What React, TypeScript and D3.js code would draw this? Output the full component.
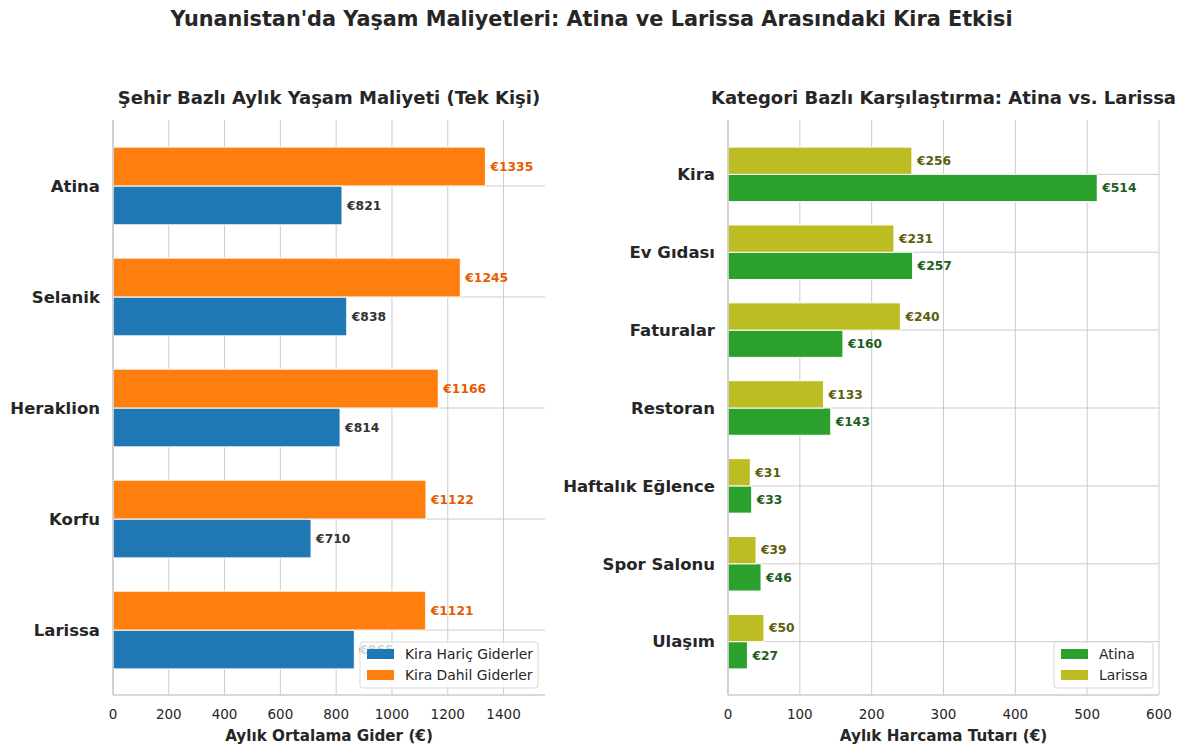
import React from 'react';
import * as d3 from 'd3';

// Left panel data
const cities = ['Atina', 'Selanik', 'Heraklion', 'Korfu', 'Larissa'];
const withoutRent = [821, 838, 814, 710, 865];
const withRent = [1335, 1245, 1166, 1122, 1121];
const leftTicks = [0, 200, 400, 600, 800, 1000, 1200, 1400];

// Right panel data
const categories = ['Kira', 'Ev Gıdası', 'Faturalar', 'Restoran', 'Haftalık Eğlence', 'Spor Salonu', 'Ulaşım'];
const athens = [514, 257, 160, 143, 33, 46, 27];
const larissa = [256, 231, 240, 133, 31, 39, 50];
const rightTicks = [0, 100, 200, 300, 400, 500, 600];

const W = 1185;
const H = 754;
const FONT = 'DejaVu Sans, sans-serif';
const TEXT = '#262626';
const GRID = '#cccccc';
const BAR_H = 0.35;

interface Series {
  name: string;
  values: number[];
  color: string;
  labelColor: string;
  side: 'top' | 'bottom';
}

interface PanelProps {
  x0: number;
  x1: number;
  y0: number;
  y1: number;
  title: string;
  xLabel: string;
  cats: string[];
  xMax: number;
  ticks: number[];
  series: Series[];
  legend: { box: [number, number, number]; items: Series[] };
}

const Panel = ({ x0, x1, y0, y1, title, xLabel, cats, xMax, ticks, series, legend }: PanelProps) => {
  const x = d3.scaleLinear().domain([0, xMax]).range([x0, x1]);
  const n = cats.length;
  const pad = BAR_H + 0.05 * (n - 1 + 2 * BAR_H);
  const y = d3.scaleLinear().domain([-pad, n - 1 + pad]).range([y0 + 1, y1]);
  const bh = y(BAR_H) - y(0);
  const [lx, ly, lw] = legend.box;

  return (
    <g>
      {/* vertical grid */}
      {ticks.map(t => (
        <line key={'v' + t} x1={x(t)} x2={x(t)} y1={y0} y2={y1} stroke={GRID} strokeWidth={1} />
      ))}
      {/* horizontal grid at categories */}
      {cats.map((c, i) => (
        <line key={'h' + c} x1={x0} x2={x1} y1={y(i)} y2={y(i)} stroke={GRID} strokeWidth={1} />
      ))}
      {/* bars */}
      {series.map(s =>
        s.values.map((v, i) => {
          const top = s.side === 'top' ? y(i) - bh : y(i);
          return (
            <g key={s.name + i}>
              <rect x={x(0)} y={top} width={x(v) - x(0)} height={bh} fill={s.color} stroke="#ffffff" strokeWidth={1} />
              <text x={x(v) + 5} y={top + bh / 2} dy="0.35em" fontSize={12.3} fontWeight="bold" fill={s.labelColor} fontFamily={FONT}>
                €{v}
              </text>
            </g>
          );
        })
      )}
      {/* spines */}
      <line x1={x0} x2={x0} y1={y0} y2={y1} stroke={GRID} strokeWidth={1.6} />
      <line x1={x0} x2={x1} y1={y1} y2={y1} stroke={GRID} strokeWidth={1.6} />
      {/* category labels */}
      {cats.map((c, i) => (
        <text key={'c' + c} x={x0 - 13} y={y(i)} dy="0.35em" textAnchor="end" fontSize={16.5} fontWeight="bold" fill={TEXT} fontFamily={FONT}>
          {c}
        </text>
      ))}
      {/* x tick labels */}
      {ticks.map(t => (
        <text key={'t' + t} x={x(t)} y={y1 + 19} dy="0.35em" textAnchor="middle" fontSize={13.5} fill={TEXT} fontFamily={FONT}>
          {t}
        </text>
      ))}
      <text x={(x0 + x1) / 2} y={y1 + 41} dy="0.35em" textAnchor="middle" fontSize={15.2} fontWeight="bold" fill={TEXT} fontFamily={FONT}>
        {xLabel}
      </text>
      <text x={(x0 + x1) / 2} y={y0 - 22} dy="0.35em" textAnchor="middle" fontSize={18} fontWeight="bold" fill={TEXT} fontFamily={FONT}>
        {title}
      </text>
      {/* legend */}
      <rect x={lx} y={ly} width={lw} height={46} rx={3} fill="#ffffff" fillOpacity={0.8} stroke="#d9d9d9" strokeWidth={1} />
      {legend.items.map((s, i) => (
        <g key={'l' + s.name}>
          <rect x={lx + 7} y={ly + 7 + i * 21} width={27} height={10} fill={s.color} />
          <text x={lx + 45} y={ly + 12 + i * 21} dy="0.35em" fontSize={13.9} fill={TEXT} fontFamily={FONT}>
            {s.name}
          </text>
        </g>
      ))}
    </g>
  );
};

export default function App() {
  const blue: Series = { name: 'Kira Hariç Giderler', values: withoutRent, color: '#1f77b4', labelColor: '#333333', side: 'bottom' };
  const orange: Series = { name: 'Kira Dahil Giderler', values: withRent, color: '#ff7f0e', labelColor: '#e65c00', side: 'top' };
  const green: Series = { name: 'Atina', values: athens, color: '#2ca02c', labelColor: '#1e5e1e', side: 'bottom' };
  const olive: Series = { name: 'Larissa', values: larissa, color: '#bcbd22', labelColor: '#5e5e0c', side: 'top' };

  return (
    <svg width={W} height={H} style={{ position: 'absolute', left: 0, top: 0, background: '#ffffff' }}>
      <rect width={W} height={H} fill="#ffffff" />
      <text x={591.5} y={19} dy="0.35em" textAnchor="middle" fontSize={20.8} fontWeight="bold" fill={TEXT} fontFamily={FONT}>
        Yunanistan'da Yaşam Maliyetleri: Atina ve Larissa Arasındaki Kira Etkisi
      </text>
      <Panel
        x0={113}
        x1={545}
        y0={120}
        y1={695}
        title="Şehir Bazlı Aylık Yaşam Maliyeti (Tek Kişi)"
        xLabel="Aylık Ortalama Gider (€)"
        cats={cities}
        xMax={d3.max(withRent)! * 1.16}
        ticks={leftTicks}
        series={[blue, orange]}
        legend={{ box: [360, 642, 178], items: [blue, orange] }}
      />
      <Panel
        x0={728}
        x1={1159}
        y0={120}
        y1={695}
        title="Kategori Bazlı Karşılaştırma: Atina vs. Larissa"
        xLabel="Aylık Harcama Tutarı (€)"
        cats={categories}
        xMax={600}
        ticks={rightTicks}
        series={[green, olive]}
        legend={{ box: [1054, 642, 99], items: [green, olive] }}
      />
    </svg>
  );
}
